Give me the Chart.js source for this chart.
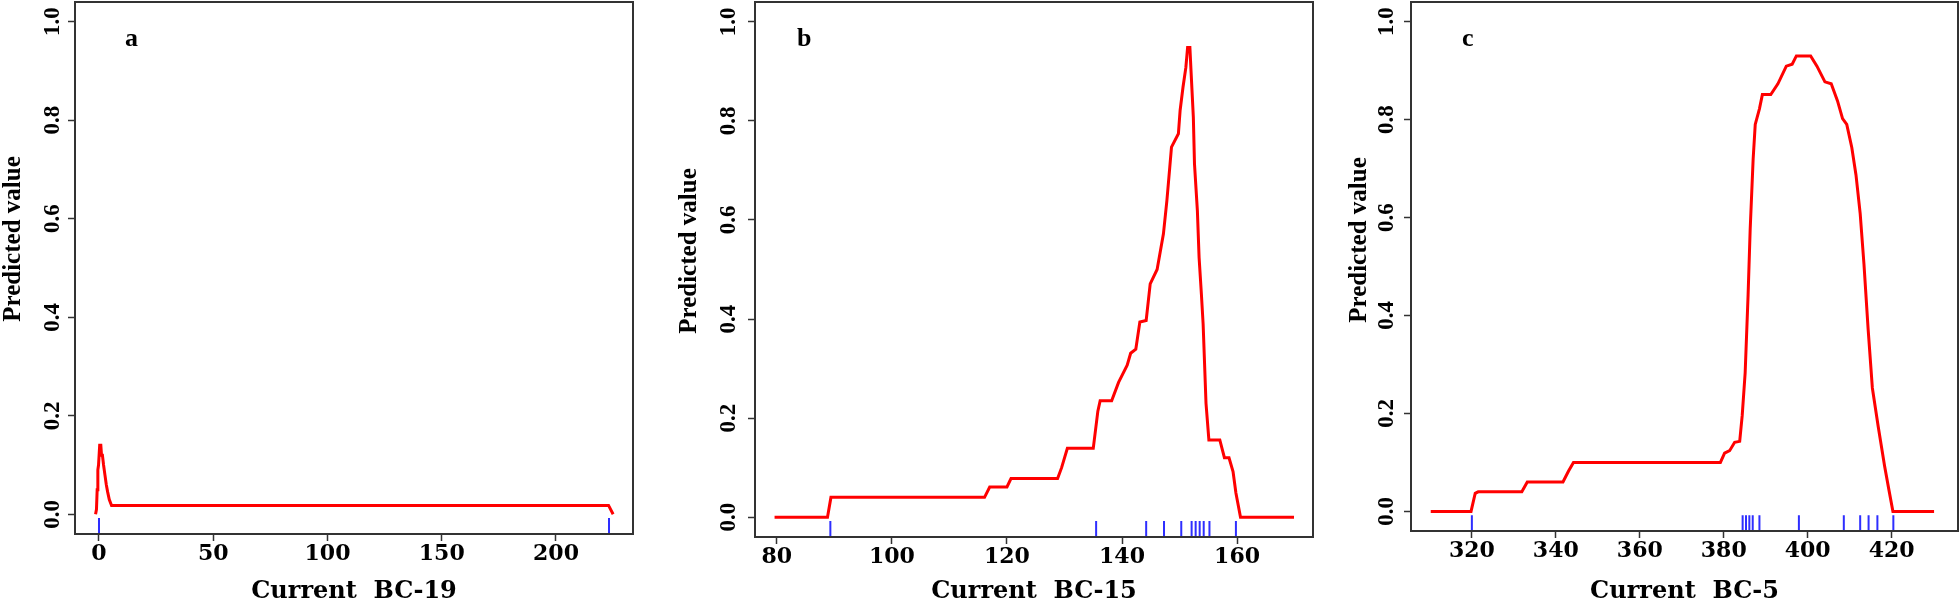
<!DOCTYPE html>
<html>
<head>
<meta charset="utf-8">
<script src="https://cdn.jsdelivr.net/npm/chart.js@4.4.1/dist/chart.umd.min.js"></script>
<style>
  body { margin: 0; background: #fff; width: 1960px; height: 608px; position: relative; overflow: hidden; }
  canvas { position: absolute; top: 0; }
</style>
</head>
<body>
<canvas id="panelA" width="650" height="608" style="left:0px"></canvas>
<canvas id="panelB" width="660" height="608" style="left:660px"></canvas>
<canvas id="panelC" width="630" height="608" style="left:1330px"></canvas>
<script>
// shared y ticks (predicted value)
const yTicks = [0, 0.2, 0.4, 0.6, 0.8, 1.0];

// a: Current BC-19
const aX = [-1.5, -1.1, -0.8, -0.5, -0.2, 0.3, 0.8, 1.1, 1.5, 2.0, 2.6, 3.2, 3.8, 4.5, 5.5, 223.0, 225.0];
const aY = [0.0, 0.01, 0.05, 0.09, 0.10, 0.14, 0.14, 0.12, 0.12, 0.10, 0.08, 0.06, 0.045, 0.03, 0.018, 0.018, 0.0];
const aRug = [0, 223.2];
const aTicks = [0, 50, 100, 150, 200];

// b: Current BC-15
const bX = [79.6, 88.8, 89.4, 116.1, 117.0, 120.0, 120.7, 128.8, 129.5, 130.5, 135.0, 135.8, 136.2, 138.2,
  139.4, 140.9, 141.5, 142.4, 143.1, 144.2, 144.9, 146.1, 147.2, 147.8, 148.3, 148.6, 149.8, 150.1, 150.6,
  151.1, 151.4, 151.8, 152.0, 152.4, 152.6, 153.1, 153.4, 153.8, 154.1, 154.6, 155.1, 157.0, 157.8, 158.6,
  159.3, 159.8, 160.6, 169.9];
const bY = [0, 0, 0.04, 0.04, 0.061, 0.061, 0.078, 0.078, 0.10, 0.139, 0.139, 0.214, 0.235, 0.235,
  0.272, 0.307, 0.331, 0.339, 0.394, 0.397, 0.471, 0.50, 0.572, 0.639, 0.706, 0.747, 0.774, 0.821, 0.868,
  0.908, 0.948, 0.948, 0.90, 0.807, 0.713, 0.619, 0.524, 0.45, 0.39, 0.23, 0.156, 0.156, 0.12, 0.12,
  0.092, 0.049, 0, 0];
const bRug = [89.3, 135.5, 144.2, 147.3, 150.3, 152.1, 152.8, 153.5, 154.2, 155.2, 159.8];
const bTicks = [80, 100, 120, 140, 160];

// c: Current BC-5
const cX = [310.2, 319.8, 320.8, 321.5, 331.9, 333.2, 341.7, 343.0, 344.2, 379.2, 380.2, 381.4, 382.6, 383.8,
  384.4, 385.1, 385.8, 386.3, 387.0, 387.5, 388.5, 389.2, 391.2, 392.9, 394.9, 396.3, 397.3, 400.7, 402.2,
  404.1, 405.6, 407.1, 408.3, 409.3, 410.5, 411.5, 412.5, 413.4, 414.4, 415.4, 416.8, 418.3, 419.3, 420.3, 430.1];
const cY = [0, 0, 0.037, 0.04, 0.04, 0.06, 0.06, 0.082, 0.10, 0.10, 0.119, 0.124, 0.141, 0.143,
  0.196, 0.283, 0.442, 0.577, 0.719, 0.79, 0.822, 0.851, 0.851, 0.873, 0.909, 0.913, 0.93, 0.93, 0.909,
  0.877, 0.873, 0.838, 0.802, 0.79, 0.743, 0.687, 0.608, 0.505, 0.371, 0.252, 0.173, 0.093, 0.046, 0, 0];
const cRug = [320, 384.5, 385.3, 386.1, 386.9, 388.5, 397.9, 408.6, 412.5, 414.5, 416.6, 420.4];
const cTicks = [320, 340, 360, 380, 400, 420];

const Y_MIN = -0.04, Y_MAX = 1.04;

// short rug marks at the foot of the plot, one gap between each
function rugPoints(xs) {
  const pts = [];
  xs.forEach(v => {
    pts.push({ x: v, y: Y_MIN }, { x: v, y: -0.0076 }, { x: v, y: null });
  });
  return pts;
}

// frame around the plot region, panel letter and the y axis title
const boxPlugin = {
  id: 'box',
  afterDraw(chart, args, opts) {
    const { ctx, chartArea: a } = chart;
    ctx.save();
    ctx.strokeStyle = '#333';
    ctx.lineWidth = 2;
    ctx.strokeRect(a.left, a.top, a.right - a.left, a.bottom - a.top);
    ctx.fillStyle = '#000';
    ctx.font = 'bold 26px "Liberation Serif"';
    ctx.textBaseline = 'alphabetic';
    ctx.fillText(opts.letter, a.left + opts.dx, 46);

    ctx.translate(opts.yTitleX, opts.yTitleY);
    ctx.rotate(-Math.PI / 2);
    ctx.font = 'bold 25px "Liberation Serif"';
    ctx.textAlign = 'center';
    ctx.textBaseline = 'middle';
    ctx.fillText('Predicted value', 0, 0);
    ctx.restore();
  }
};

const tickFontX = { family: '"DejaVu Serif", serif', weight: 'bold', size: 22, lineHeight: 1 };
const tickFontY = { family: '"Liberation Serif", serif', weight: 'bold', size: 23, lineHeight: 1 };
const titleFontX = { family: '"DejaVu Serif", serif', weight: 'bold', size: 24, lineHeight: 1 };

function makePanel(id, p) {
  new Chart(document.getElementById(id), {
    type: 'line',
    data: {
      datasets: [
        {
          data: p.x.map((v, i) => ({ x: v, y: p.y[i] })),
          borderColor: '#ff0000',
          borderWidth: 3,
          pointRadius: 0,
          tension: 0
        },
        {
          data: rugPoints(p.rug),
          borderColor: '#2e2eff',
          borderWidth: 2,
          pointRadius: 0,
          spanGaps: false
        }
      ]
    },
    options: {
      responsive: false,
      animation: false,
      layout: { padding: { top: 2, right: p.padRight, left: 0, bottom: 0 } },
      plugins: {
        legend: { display: false },
        tooltip: { enabled: false },
        box: { letter: p.letter, dx: p.letterDx, yTitleX: p.yTitleX, yTitleY: p.yTitleY }
      },
      scales: {
        x: {
          type: 'linear',
          min: p.xMin,
          max: p.xMax,
          afterBuildTicks: s => { s.ticks = p.ticks.map(v => ({ value: v })); },
          afterFit: s => { s.height = p.xAxisH; s.paddingLeft = 0; s.paddingRight = 0; },
          border: { display: false },
          grid: { drawOnChartArea: false, tickLength: 7, tickColor: '#333', tickWidth: 1.5 },
          ticks: { autoSkip: false, maxRotation: 0, padding: 2, color: '#000', font: tickFontX },
          title: { display: true, text: p.title, color: '#000', font: titleFontX, padding: { top: 0, bottom: 4 } }
        },
        y: {
          min: Y_MIN,
          max: Y_MAX,
          afterBuildTicks: s => { s.ticks = yTicks.map(v => ({ value: v })); },
          afterFit: s => { s.width = p.yAxisW; s.paddingTop = 0; s.paddingBottom = 0; },
          border: { display: false },
          grid: { drawOnChartArea: false, tickLength: 7, tickColor: '#333', tickWidth: 1.5 },
          ticks: {
            autoSkip: false, minRotation: 90, maxRotation: 90, crossAlign: 'center',
            padding: p.yPad, color: '#000', font: tickFontY,
            callback: v => v.toFixed(1)
          }
        }
      }
    },
    plugins: [boxPlugin]
  });
}

makePanel('panelA', {
  x: aX, y: aY, rug: aRug, ticks: aTicks, xMin: -10.5, xMax: 233.7,
  title: 'Current  BC-19', letter: 'a', letterDx: 50,
  yAxisW: 75, padRight: 17, xAxisH: 74, yPad: 1, yTitleX: 14, yTitleY: 239
});
makePanel('panelB', {
  x: bX, y: bY, rug: bRug, ticks: bTicks, xMin: 76.2, xMax: 173.2,
  title: 'Current  BC-15', letter: 'b', letterDx: 42,
  yAxisW: 95, padRight: 7, xAxisH: 71, yPad: 5, yTitleX: 30, yTitleY: 251
});
makePanel('panelC', {
  x: cX, y: cY, rug: cRug, ticks: cTicks, xMin: 305.5, xMax: 435.8,
  title: 'Current  BC-5', letter: 'c', letterDx: 51,
  yAxisW: 81, padRight: 2, xAxisH: 77, yPad: 3, yTitleX: 30, yTitleY: 240
});
</script>
</body>
</html>
